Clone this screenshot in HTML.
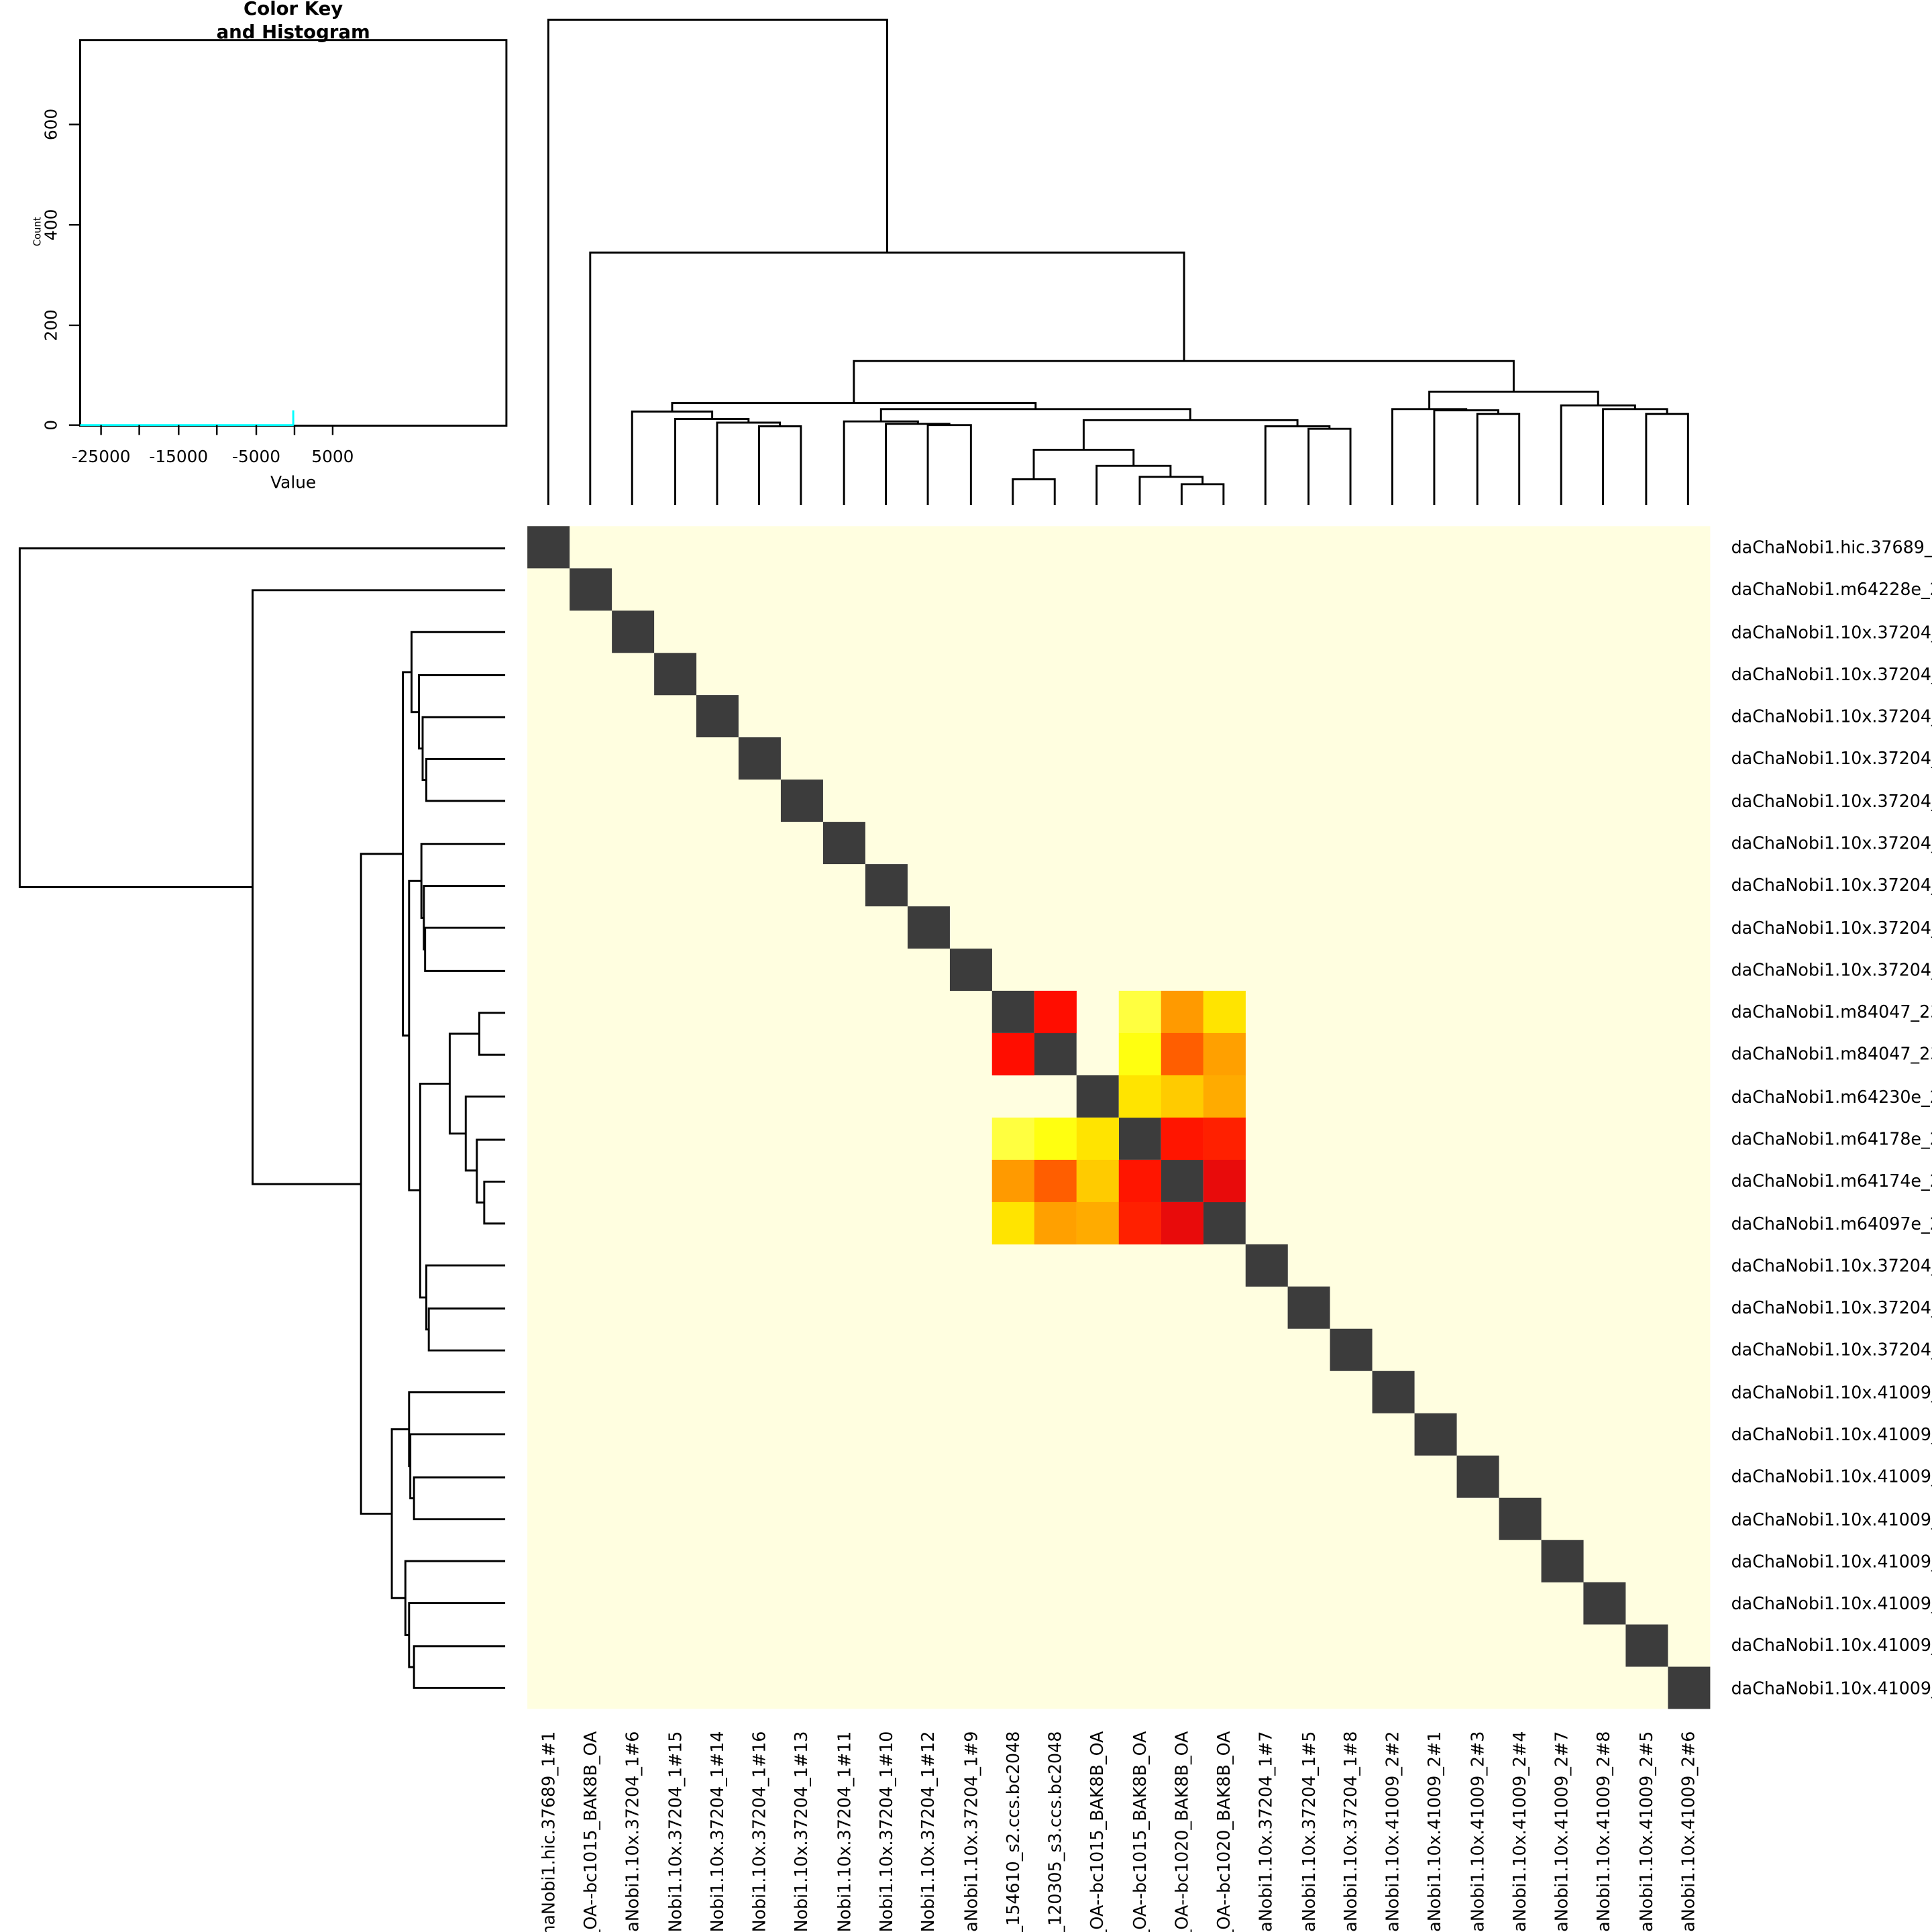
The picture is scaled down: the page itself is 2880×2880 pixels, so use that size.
<!DOCTYPE html>
<html><head><meta charset="utf-8"><style>html,body{margin:0;padding:0;background:#fff;overflow:hidden;width:2880px;height:2880px}svg{display:block;overflow:hidden}</style></head><body>
<svg xmlns="http://www.w3.org/2000/svg" width="2880" height="2880" viewBox="0 0 1568 1568" font-family="DejaVu Sans, Liberation Sans, sans-serif">
<rect width="1568" height="1568" fill="#fff"/>
<text x="238" y="12" font-size="15" font-weight="bold" text-anchor="middle">Color Key</text>
<text x="238" y="31" font-size="15" font-weight="bold" text-anchor="middle">and Histogram</text>
<rect x="65" y="32.5" width="346" height="313" fill="none" stroke="#000" stroke-width="1.6"/>
<path d="M65 345 H238 V333" fill="none" stroke="#00ffff" stroke-width="1.6"/>
<g stroke="#000" stroke-width="1.3">
<path d="M56 345 H65 M56 264 H65 M56 182.5 H65 M56 101 H65"/>
<path d="M82 345 V353 M113 345 V353 M145 345 V353 M176 345 V353 M208 345 V353 M239 345 V353 M270 345 V353"/>
</g>
<g font-size="13.5" text-anchor="middle">
<text transform="translate(46,345) rotate(-90)">0</text>
<text transform="translate(46,264) rotate(-90)">200</text>
<text transform="translate(46,182.5) rotate(-90)">400</text>
<text transform="translate(46,101) rotate(-90)">600</text>
<text x="82" y="375">-25000</text><text x="145" y="375">-15000</text><text x="208" y="375">-5000</text><text x="270" y="375">5000</text>
<text x="238" y="396">Value</text>
</g>
<text transform="translate(33,188) rotate(-90)" font-size="8" text-anchor="middle">Count</text>
<rect x="428" y="427" width="960" height="960" fill="#fffee0"/>
<g fill="#3c3c3c">
<rect x="428" y="427" width="34.3" height="34.3"/><rect x="462.3" y="461.3" width="34.3" height="34.3"/><rect x="496.6" y="495.6" width="34.3" height="34.3"/><rect x="530.9" y="529.9" width="34.3" height="34.3"/><rect x="565.1" y="564.1" width="34.3" height="34.3"/><rect x="599.4" y="598.4" width="34.3" height="34.3"/><rect x="633.7" y="632.7" width="34.3" height="34.3"/><rect x="668" y="667" width="34.3" height="34.3"/><rect x="702.3" y="701.3" width="34.3" height="34.3"/><rect x="736.6" y="735.6" width="34.3" height="34.3"/><rect x="770.9" y="769.9" width="34.3" height="34.3"/><rect x="805.1" y="804.1" width="34.3" height="34.3"/><rect x="839.4" y="838.4" width="34.3" height="34.3"/><rect x="873.7" y="872.7" width="34.3" height="34.3"/><rect x="908" y="907" width="34.3" height="34.3"/><rect x="942.3" y="941.3" width="34.3" height="34.3"/><rect x="976.6" y="975.6" width="34.3" height="34.3"/><rect x="1010.9" y="1009.9" width="34.3" height="34.3"/><rect x="1045.1" y="1044.1" width="34.3" height="34.3"/><rect x="1079.4" y="1078.4" width="34.3" height="34.3"/><rect x="1113.7" y="1112.7" width="34.3" height="34.3"/><rect x="1148" y="1147" width="34.3" height="34.3"/><rect x="1182.3" y="1181.3" width="34.3" height="34.3"/><rect x="1216.6" y="1215.6" width="34.3" height="34.3"/><rect x="1250.9" y="1249.9" width="34.3" height="34.3"/><rect x="1285.1" y="1284.1" width="34.3" height="34.3"/><rect x="1319.4" y="1318.4" width="34.3" height="34.3"/><rect x="1353.7" y="1352.7" width="34.3" height="34.3"/>
</g>
<g>
<rect x="839.4" y="804.1" width="34.4" height="34.4" fill="#ff0d00"/>
<rect x="908" y="804.1" width="34.4" height="34.4" fill="#ffff40"/>
<rect x="942.3" y="804.1" width="34.4" height="34.4" fill="#ff9a00"/>
<rect x="976.6" y="804.1" width="34.4" height="34.4" fill="#ffe400"/>
<rect x="805.1" y="838.4" width="34.4" height="34.4" fill="#ff0d00"/>
<rect x="908" y="838.4" width="34.4" height="34.4" fill="#ffff10"/>
<rect x="942.3" y="838.4" width="34.4" height="34.4" fill="#ff5e00"/>
<rect x="976.6" y="838.4" width="34.4" height="34.4" fill="#ffa000"/>
<rect x="908" y="872.7" width="34.4" height="34.4" fill="#ffe400"/>
<rect x="942.3" y="872.7" width="34.4" height="34.4" fill="#ffcb00"/>
<rect x="976.6" y="872.7" width="34.4" height="34.4" fill="#ffab00"/>
<rect x="805.1" y="907" width="34.4" height="34.4" fill="#ffff40"/>
<rect x="839.4" y="907" width="34.4" height="34.4" fill="#ffff10"/>
<rect x="873.7" y="907" width="34.4" height="34.4" fill="#ffe400"/>
<rect x="942.3" y="907" width="34.4" height="34.4" fill="#ff1500"/>
<rect x="976.6" y="907" width="34.4" height="34.4" fill="#ff2000"/>
<rect x="805.1" y="941.3" width="34.4" height="34.4" fill="#ff9a00"/>
<rect x="839.4" y="941.3" width="34.4" height="34.4" fill="#ff5e00"/>
<rect x="873.7" y="941.3" width="34.4" height="34.4" fill="#ffcb00"/>
<rect x="908" y="941.3" width="34.4" height="34.4" fill="#ff1500"/>
<rect x="976.6" y="941.3" width="34.4" height="34.4" fill="#e80b0b"/>
<rect x="805.1" y="975.6" width="34.4" height="34.4" fill="#ffe400"/>
<rect x="839.4" y="975.6" width="34.4" height="34.4" fill="#ffa000"/>
<rect x="873.7" y="975.6" width="34.4" height="34.4" fill="#ffab00"/>
<rect x="908" y="975.6" width="34.4" height="34.4" fill="#ff2000"/>
<rect x="942.3" y="975.6" width="34.4" height="34.4" fill="#e80b0b"/>
</g>
<defs>
<g id="dend" fill="none" stroke="#000" stroke-width="1.6">
<path d="M616 410 V346 H650 V410"/>
<path d="M582 410 V343 H633 V346"/>
<path d="M548 410 V340 H607.5 V343"/>
<path d="M513 410 V334 H578 V340"/>
<path d="M753 410 V345 H788 V410"/>
<path d="M719 410 V344 H770.5 V345"/>
<path d="M685 410 V342 H745 V344"/>
<path d="M822 410 V389 H856 V410"/>
<path d="M959 410 V393 H993 V410"/>
<path d="M925 410 V387 H976 V393"/>
<path d="M890 410 V378 H950 V387"/>
<path d="M839 389 V365 H920 V378"/>
<path d="M1062 410 V348 H1096 V410"/>
<path d="M1027 410 V346 H1079 V348"/>
<path d="M879.5 365 V341 H1053 V346"/>
<path d="M715 342 V332 H966 V341"/>
<path d="M545.5 334 V327 H840.5 V332"/>
<path d="M1199 410 V336 H1233 V410"/>
<path d="M1164 410 V333 H1216 V336"/>
<path d="M1130 410 V332 H1190 V333"/>
<path d="M1336 410 V336 H1370 V410"/>
<path d="M1301 410 V332 H1353 V336"/>
<path d="M1267 410 V329 H1327 V332"/>
<path d="M1160 332 V318 H1297 V329"/>
<path d="M693 327 V293 H1228.5 V318"/>
<path d="M479 410 V205 H961 V293"/>
<path d="M445 410 V16 H720 V205"/>
</g>
</defs>
<use href="#dend"/>
<use href="#dend" transform="matrix(0 1 1 0 0 0)"/>
<g font-size="13.8">
<text x="1405" y="449">daChaNobi1.hic.37689_1#1</text>
<text x="1405" y="483">daChaNobi1.m64228e_220617</text>
<text x="1405" y="518">daChaNobi1.10x.37204_1#6</text>
<text x="1405" y="552">daChaNobi1.10x.37204_1#15</text>
<text x="1405" y="586">daChaNobi1.10x.37204_1#14</text>
<text x="1405" y="620">daChaNobi1.10x.37204_1#16</text>
<text x="1405" y="655">daChaNobi1.10x.37204_1#13</text>
<text x="1405" y="689">daChaNobi1.10x.37204_1#11</text>
<text x="1405" y="723">daChaNobi1.10x.37204_1#10</text>
<text x="1405" y="758">daChaNobi1.10x.37204_1#12</text>
<text x="1405" y="792">daChaNobi1.10x.37204_1#9</text>
<text x="1405" y="826">daChaNobi1.m84047_230404</text>
<text x="1405" y="860">daChaNobi1.m84047_230404</text>
<text x="1405" y="895">daChaNobi1.m64230e_220619</text>
<text x="1405" y="929">daChaNobi1.m64178e_220616</text>
<text x="1405" y="963">daChaNobi1.m64174e_220620</text>
<text x="1405" y="998">daChaNobi1.m64097e_220617</text>
<text x="1405" y="1032">daChaNobi1.10x.37204_1#7</text>
<text x="1405" y="1066">daChaNobi1.10x.37204_1#5</text>
<text x="1405" y="1100">daChaNobi1.10x.37204_1#8</text>
<text x="1405" y="1135">daChaNobi1.10x.41009_2#2</text>
<text x="1405" y="1169">daChaNobi1.10x.41009_2#1</text>
<text x="1405" y="1203">daChaNobi1.10x.41009_2#3</text>
<text x="1405" y="1238">daChaNobi1.10x.41009_2#4</text>
<text x="1405" y="1272">daChaNobi1.10x.41009_2#7</text>
<text x="1405" y="1306">daChaNobi1.10x.41009_2#8</text>
<text x="1405" y="1340">daChaNobi1.10x.41009_2#5</text>
<text x="1405" y="1375">daChaNobi1.10x.41009_2#6</text>
</g>
<g font-size="13.8" text-anchor="end">
<text transform="translate(450,1405) rotate(-90)">daChaNobi1.hic.37689_1#1</text>
<text transform="translate(484,1405) rotate(-90)">m64228e_220617_OA--bc1015_BAK8B_OA</text>
<text transform="translate(518,1405) rotate(-90)">daChaNobi1.10x.37204_1#6</text>
<text transform="translate(553,1405) rotate(-90)">daChaNobi1.10x.37204_1#15</text>
<text transform="translate(587,1405) rotate(-90)">daChaNobi1.10x.37204_1#14</text>
<text transform="translate(621,1405) rotate(-90)">daChaNobi1.10x.37204_1#16</text>
<text transform="translate(655,1405) rotate(-90)">daChaNobi1.10x.37204_1#13</text>
<text transform="translate(690,1405) rotate(-90)">daChaNobi1.10x.37204_1#11</text>
<text transform="translate(724,1405) rotate(-90)">daChaNobi1.10x.37204_1#10</text>
<text transform="translate(758,1405) rotate(-90)">daChaNobi1.10x.37204_1#12</text>
<text transform="translate(793,1405) rotate(-90)">daChaNobi1.10x.37204_1#9</text>
<text transform="translate(827,1405) rotate(-90)">m84047_230404_154610_s2.ccs.bc2048</text>
<text transform="translate(861,1405) rotate(-90)">m84047_230405_120305_s3.ccs.bc2048</text>
<text transform="translate(895,1405) rotate(-90)">m64230e_220619_OA--bc1015_BAK8B_OA</text>
<text transform="translate(930,1405) rotate(-90)">m64178e_220616_OA--bc1015_BAK8B_OA</text>
<text transform="translate(964,1405) rotate(-90)">m64174e_220620_OA--bc1020_BAK8B_OA</text>
<text transform="translate(998,1405) rotate(-90)">m64097e_220617_OA--bc1020_BAK8B_OA</text>
<text transform="translate(1032,1405) rotate(-90)">daChaNobi1.10x.37204_1#7</text>
<text transform="translate(1067,1405) rotate(-90)">daChaNobi1.10x.37204_1#5</text>
<text transform="translate(1101,1405) rotate(-90)">daChaNobi1.10x.37204_1#8</text>
<text transform="translate(1135,1405) rotate(-90)">daChaNobi1.10x.41009_2#2</text>
<text transform="translate(1169,1405) rotate(-90)">daChaNobi1.10x.41009_2#1</text>
<text transform="translate(1204,1405) rotate(-90)">daChaNobi1.10x.41009_2#3</text>
<text transform="translate(1238,1405) rotate(-90)">daChaNobi1.10x.41009_2#4</text>
<text transform="translate(1272,1405) rotate(-90)">daChaNobi1.10x.41009_2#7</text>
<text transform="translate(1306,1405) rotate(-90)">daChaNobi1.10x.41009_2#8</text>
<text transform="translate(1341,1405) rotate(-90)">daChaNobi1.10x.41009_2#5</text>
<text transform="translate(1375,1405) rotate(-90)">daChaNobi1.10x.41009_2#6</text>
</g>
</svg>
</body></html>
